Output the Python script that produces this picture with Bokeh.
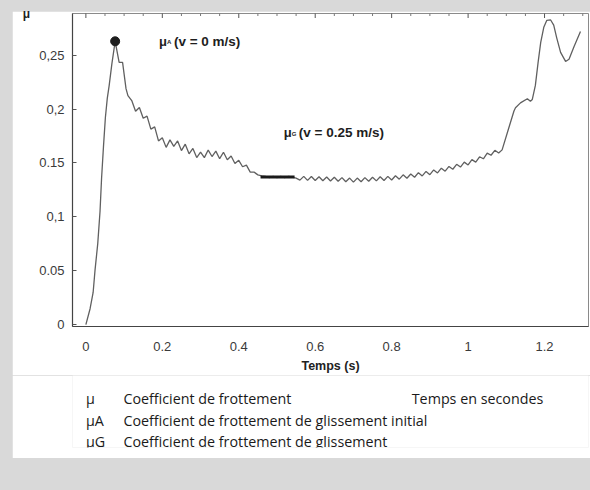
import math
from bokeh.plotting import figure
from bokeh.models import (Range1d, FixedTicker, Label, Spacer, LinearAxis,
                          GlobalInlineStyleSheet)
from bokeh.layouts import column, row
from bokeh.embed import file_html
from bokeh.resources import INLINE
from bokeh.core.properties import value

# ---------------- data ----------------
time_s = [
    0.000, 0.011, 0.019, 0.024, 0.031, 0.037, 0.041, 0.046, 0.051, 0.056,
    0.061, 0.068, 0.0766, 0.087, 0.096, 0.105, 0.110,
    0.12, 0.13, 0.14, 0.15, 0.16, 0.17, 0.18, 0.19, 0.20, 0.21, 0.22, 0.23,
    0.24, 0.25, 0.26, 0.27, 0.28, 0.29, 0.30, 0.31, 0.32, 0.33, 0.34, 0.35,
    0.36, 0.37, 0.38, 0.39, 0.40, 0.41, 0.42, 0.43, 0.44, 0.45, 0.46,
    0.47, 0.48, 0.49, 0.50, 0.51, 0.52, 0.53, 0.54, 0.55,
    0.56, 0.57, 0.58, 0.59, 0.60, 0.61, 0.62, 0.63, 0.64, 0.65, 0.66, 0.67,
    0.68, 0.69, 0.70, 0.71, 0.72, 0.73, 0.74, 0.75, 0.76, 0.77, 0.78, 0.79,
    0.80, 0.81, 0.82, 0.83, 0.84, 0.85, 0.86, 0.87, 0.88, 0.89, 0.90, 0.91,
    0.92, 0.93, 0.94, 0.95, 0.96, 0.97, 0.98, 0.99, 1.00, 1.01, 1.02, 1.03,
    1.04, 1.05, 1.06, 1.07, 1.08, 1.089,
    1.107, 1.120, 1.124, 1.137, 1.155, 1.163, 1.168, 1.176, 1.183, 1.190,
    1.198, 1.206, 1.216, 1.224, 1.232, 1.242, 1.255, 1.264, 1.277, 1.294,
]
mu = [
    0.000, 0.0147, 0.0298, 0.0508, 0.0749, 0.105, 0.1354, 0.165, 0.192, 0.210,
    0.222, 0.242, 0.263, 0.2434, 0.2434, 0.219, 0.2126,
    0.208, 0.198, 0.2015, 0.1915, 0.1935, 0.1815, 0.1835, 0.1705, 0.1735,
    0.1645, 0.1715, 0.1655, 0.1705, 0.1615, 0.1675, 0.1585, 0.1635, 0.155,
    0.160, 0.155, 0.162, 0.156, 0.161, 0.154, 0.160, 0.153, 0.1565, 0.1495,
    0.1525, 0.1465, 0.148, 0.1415, 0.1415, 0.139, 0.138,
    0.1375, 0.1365, 0.1375, 0.1365, 0.1375, 0.1365, 0.1375, 0.137, 0.136,
    0.1341, 0.1376, 0.1339, 0.1374, 0.1337, 0.1372, 0.1335, 0.1370, 0.1333,
    0.1368, 0.1330, 0.1364, 0.1326, 0.1360, 0.1322, 0.1360, 0.1326, 0.1364,
    0.1330, 0.1368, 0.1334, 0.1372, 0.1338, 0.1376, 0.1342, 0.1382, 0.1350,
    0.1390, 0.1358, 0.1398, 0.1368, 0.1410, 0.1380, 0.1422, 0.1392, 0.1436,
    0.1408, 0.1452, 0.1424, 0.1468, 0.1442, 0.1488, 0.1462, 0.1508, 0.1482,
    0.1531, 0.1508, 0.1558, 0.1539, 0.1591, 0.1572, 0.1618, 0.1592, 0.1622,
    0.1832, 0.1983, 0.2013, 0.2058, 0.2097, 0.2073, 0.209, 0.222, 0.243,
    0.262, 0.276, 0.2825, 0.2828, 0.278, 0.266, 0.2527, 0.2443, 0.2464,
    0.258, 0.272,
]
peak_t = [0.0766]
peak_mu = [0.263]
glide_t = [0.457, 0.546]
glide_mu = [0.137, 0.137]

x_ticks = [0, 0.2, 0.4, 0.6, 0.8, 1.0, 1.2]
x_tick_labels = ["0", "0.2", "0.4", "0.6", "0.8", "1", "1.2"]
x_minor = [0.05, 0.1, 0.15, 0.25, 0.3, 0.35, 0.45, 0.5, 0.55, 0.65, 0.7, 0.75,
           0.85, 0.9, 0.95, 1.05, 1.1, 1.15, 1.25, 1.3]
y_ticks = [0, 0.05, 0.1, 0.15, 0.2, 0.25]
y_tick_labels = ["0", "0.05", "0,1", "0.15", "0,2", "0,25"]

legend_symbols = ["μ", "μA", "μG"]
legend_texts = ["Coefficient de frottement",
                "Coefficient de frottement de glissement initial",
                "Coefficient de frottement de glissement"]
x_title = "Temps (s)"
y_title = "μ"
x_note = "Temps en secondes"

# ---------------- main chart ----------------
FONT = "Liberation Sans"
xr = Range1d(-0.035, 1.315)
yr = Range1d(-0.0018, 0.2888)
p = figure(width=578, height=364, output_backend="svg", toolbar_location=None,
           x_range=xr, y_range=yr,
           min_border_left=60, min_border_right=2, min_border_top=2,
           min_border_bottom=40, background_fill_color="white",
           border_fill_color="white", outline_line_color="#8a8a8a")
p.grid.visible = False

p.xaxis.ticker = FixedTicker(ticks=x_ticks, minor_ticks=[])
p.xaxis.major_label_overrides = dict(zip(x_ticks, x_tick_labels))
p.xaxis.axis_label = x_title
p.xaxis.axis_label_text_font = FONT
p.xaxis.axis_label_text_font_style = "bold"
p.xaxis.axis_label_text_font_size = "12.5px"
p.xaxis.axis_label_text_color = "#222222"
p.xaxis.axis_label_standoff = 5
p.xaxis.major_label_standoff = 9
p.xaxis.major_tick_line_color = None
p.xaxis.minor_tick_line_color = None

p.yaxis.ticker = FixedTicker(ticks=y_ticks, minor_ticks=[])
p.yaxis.major_label_overrides = dict(zip(y_ticks, y_tick_labels))
p.yaxis.major_tick_in = 4
p.yaxis.major_tick_out = 0
p.yaxis.major_tick_line_color = "#555555"
p.yaxis.major_label_standoff = 8

for ax in (p.xaxis[0], p.yaxis[0]):
    ax.axis_line_color = "#444444"
    ax.axis_line_width = 1.2
    ax.major_label_text_font = FONT
    ax.major_label_text_font_size = "13px"
    ax.major_label_text_color = "#3a3a3a"

bold = dict(text_font=FONT, text_font_style="bold", text_color="#1e1e1e",
            text_baseline="middle")

# y title "μ" written horizontally at the top-left corner
if "axis_label_align" in LinearAxis.properties():
    p.yaxis.axis_label = y_title
    p.yaxis.axis_label_orientation = "horizontal"
    p.yaxis.axis_label_align = "end"
    p.yaxis.axis_label_standoff = 6
    p.yaxis.axis_label_text_font = FONT
    p.yaxis.axis_label_text_font_style = "bold"
    p.yaxis.axis_label_text_font_size = "12px"
    p.yaxis.axis_label_text_color = "#1e1e1e"
    p.yaxis.axis_label_text_baseline = "top"
else:
    p.add_layout(Label(x=-45, y=309, x_units="screen", y_units="screen",
                       text=y_title, text_font_size="12px", **bold))

# tick marks along the top edge of the frame (mirrored x ticks)
p.scatter(x_ticks, [yr.end] * len(x_ticks), marker="dash", angle=math.pi / 2,
          size=9, line_color="#555555", line_width=1)
p.scatter(x_minor, [yr.end] * len(x_minor), marker="dash", angle=math.pi / 2,
          size=5, line_color="#777777", line_width=1)

p.line(time_s, mu, line_color="#606060", line_width=1.3)
p.line(glide_t, glide_mu, line_color="#1a1a1a", line_width=3)
p.scatter(peak_t, peak_mu, size=9, color="#1e1e1e")

# μA (v = 0 m/s)
p.add_layout(Label(x=0.191, y=0.263, text="μ", text_font_size="13px", **bold))
p.add_layout(Label(x=0.191, y=0.263, x_offset=8, y_offset=-1, text="A",
                   text_font_size="6px", **bold))
p.add_layout(Label(x=0.191, y=0.263, x_offset=15, text="(v = 0 m/s)",
                   text_font_size="13.5px", **bold))
# μG (v = 0.25 m/s)
p.add_layout(Label(x=0.518, y=0.178, text="μ", text_font_size="13px", **bold))
p.add_layout(Label(x=0.518, y=0.178, x_offset=8, y_offset=-1, text="G",
                   text_font_size="6px", **bold))
p.add_layout(Label(x=0.518, y=0.178, x_offset=15, text="(v = 0.25 m/s)",
                   text_font_size="13.5px", **bold))

# ---------------- text block below the chart ----------------
p2 = figure(width=578, height=83, output_backend="svg", toolbar_location=None,
            x_range=Range1d(0, 578), y_range=Range1d(72, 0),
            min_border=0, min_border_bottom=11, outline_line_color=None,
            background_fill_color="white", border_fill_color="white")
p2.axis.visible = False
p2.grid.visible = False
txt = dict(text_font=value("Open Sans"), text_font_size="14.3px",
           text_color="#1a1a1a", text_baseline="middle")
p2.text(x=[15, 15, 15], y=[23, 45, 66], text=legend_symbols, **txt)
p2.text(x=[57, 57, 57], y=[23, 45, 66], text=legend_texts, **txt)
p2.text(x=[380], y=[23], text=[x_note], **txt)

layout = column(Spacer(height=11),
                row(Spacer(width=12), column(p, p2)))
layout.stylesheets = [GlobalInlineStyleSheet(
    css="html, body { background-color: #d9d9d9; overflow: hidden; margin: 0; }")]

open("out.html", "w").write(file_html(layout, INLINE))
